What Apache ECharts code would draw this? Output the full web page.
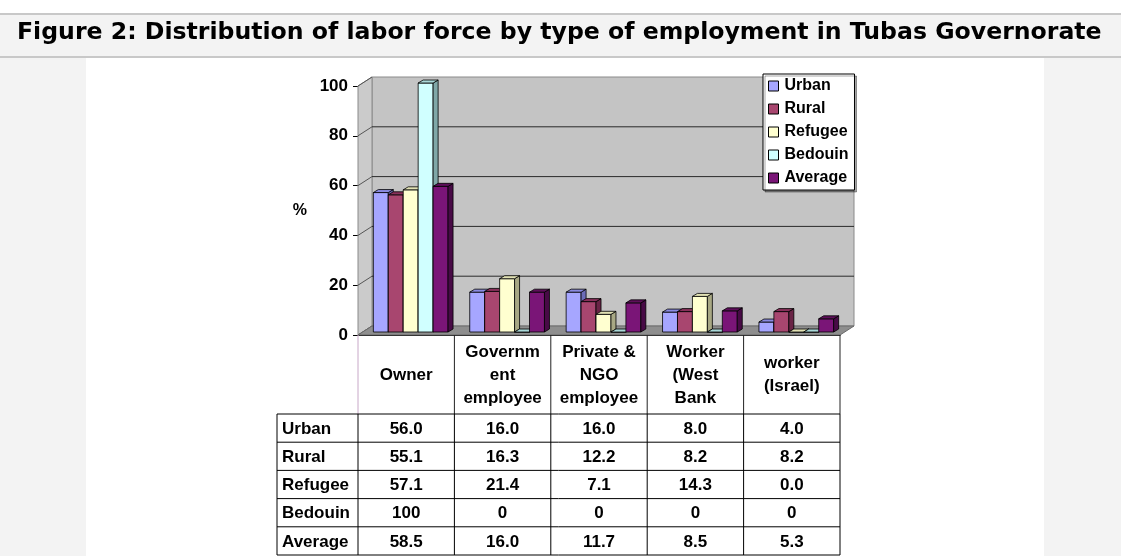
<!DOCTYPE html>
<html>
<head>
<meta charset="utf-8">
<script src="https://cdn.jsdelivr.net/npm/echarts@6/dist/echarts.min.js"></script>
<style>
  html, body { margin: 0; padding: 0; background: #fff; }
  #laborChart { width: 1121px; height: 556px; }
</style>
</head>
<body>
<div id="laborChart"></div>
<script>
// categories (header text wraps like the original table)
var categories = ['Owner', 'Governm\nent\nemployee', 'Private &\nNGO\nemployee', 'Worker\n(West\nBank', 'worker\n(Israel)'];
var seriesNames = ['Urban', 'Rural', 'Refugee', 'Bedouin', 'Average'];
var urban = [56.0, 16.0, 16.0, 8.0, 4.0];
var rural = [55.1, 16.3, 12.2, 8.2, 8.2];
var refugee = [57.1, 21.4, 7.1, 14.3, 0.0];
var bedouin = [100, 0, 0, 0, 0];
var average = [58.5, 16.0, 11.7, 8.5, 5.3];
var rowDecimals = [1, 1, 1, 0, 1];
var yTicks = [0, 20, 40, 60, 80, 100];

var allValues = [urban, rural, refugee, bedouin, average];

// colours: front / side / top of each 3d column
var frontColors = ['#a6a6ff', '#a8466f', '#ffffd0', '#d0ffff', '#7a1577'];
var sideColors = ['#6c6cb8', '#6a2446', '#a8a884', '#80a8a8', '#480a46'];
var topColors = ['#8a8ae0', '#88305a', '#e2e2b4', '#aad8d8', '#5e0e5a'];

var GRID_LEFT = 358, GRID_TOP = 86, GRID_W = 482, GRID_H = 249;
var WALL_DX = 14, WALL_DY = -9;   // depth of the walls
var BAR_DX = 5, BAR_DY = -3;      // depth of a column
var FONT = '"Liberation Sans", Arial, sans-serif';

function barRenderer(si) {
  return function (params, api) {
    var c = api.value(0);
    var v = api.value(1);
    var base = api.coord([c, 0]);
    var top = api.coord([c, v]);
    var band = api.size([1, 0])[0];
    var bw = band * 0.155;
    var x0 = base[0] - 2.5 * bw + si * bw + 4.5;
    var x1 = x0 + bw;
    var yb = base[1] - 3;
    var yt = top[1] - 3;
    var line = { stroke: '#000', lineWidth: 0.8 };
    return {
      type: 'group',
      children: [
        { type: 'rect', shape: { x: x0, y: yt, width: bw, height: yb - yt },
          style: Object.assign({ fill: frontColors[si] }, line) },
        { type: 'polygon', shape: { points: [[x1, yb], [x1 + BAR_DX, yb + BAR_DY], [x1 + BAR_DX, yt + BAR_DY], [x1, yt]] },
          style: Object.assign({ fill: sideColors[si] }, line) },
        { type: 'polygon', shape: { points: [[x0, yt], [x0 + BAR_DX, yt + BAR_DY], [x1 + BAR_DX, yt + BAR_DY], [x1, yt]] },
          style: Object.assign({ fill: topColors[si] }, line) }
      ]
    };
  };
}

function frameRenderer(params, api) {
  var cs = params.coordSys;
  var y0 = api.coord([0, 0])[1];
  var yTop = api.coord([0, 100])[1];
  var children = [];
  // back wall
  children.push({ type: 'rect', shape: { x: cs.x + WALL_DX, y: yTop + WALL_DY, width: cs.width, height: y0 - yTop },
    style: { fill: '#c4c4c4', stroke: '#8a8a8a', lineWidth: 1 } });
  // side wall
  children.push({ type: 'polygon', shape: { points: [[cs.x, y0], [cs.x + WALL_DX, y0 + WALL_DY], [cs.x + WALL_DX, yTop + WALL_DY], [cs.x, yTop]] },
    style: { fill: '#cbcbcb', stroke: '#8a8a8a', lineWidth: 1 } });
  yTicks.forEach(function (t) {
    var y = api.coord([0, t])[1];
    if (t > 0 && t < 100) {
      children.push({ type: 'line', shape: { x1: cs.x + WALL_DX, y1: y + WALL_DY, x2: cs.x + WALL_DX + cs.width, y2: y + WALL_DY },
        style: { stroke: '#2a2a2a', lineWidth: 1 } });
    }
    children.push({ type: 'line', shape: { x1: cs.x, y1: y, x2: cs.x + WALL_DX, y2: y + WALL_DY },
      style: { stroke: '#555', lineWidth: 1 } });
  });
  // floor
  children.push({ type: 'polygon', shape: { points: [[cs.x, y0], [cs.x + cs.width, y0], [cs.x + cs.width + WALL_DX, y0 + WALL_DY], [cs.x + WALL_DX, y0 + WALL_DY]] },
    style: { fill: '#8e8e8e', stroke: '#6a6a6a', lineWidth: 1 } });
  return { type: 'group', children: children };
}

// table under the chart
function buildTable() {
  var els = [];
  var colW = GRID_W / categories.length;
  var headTop = GRID_TOP + GRID_H;
  var rowTop = 414, rowH = 28.2, labelLeft = 277;
  var bottom = rowTop + rowH * seriesNames.length;
  // header column lines
  for (var k = 0; k <= categories.length; k++) {
    var x = GRID_LEFT + k * colW;
    els.push({ type: 'line', z: 10, shape: { x1: x, y1: headTop, x2: x, y2: rowTop },
      style: { stroke: k === 0 ? '#c8a8c8' : '#222', lineWidth: 1 } });
    els.push({ type: 'line', z: 10, shape: { x1: x, y1: rowTop, x2: x, y2: bottom },
      style: { stroke: '#000', lineWidth: 1 } });
  }
  els.push({ type: 'line', z: 10, shape: { x1: labelLeft, y1: rowTop, x2: labelLeft, y2: bottom },
    style: { stroke: '#000', lineWidth: 1 } });
  for (var r = 0; r <= seriesNames.length; r++) {
    var y = rowTop + r * rowH;
    els.push({ type: 'line', z: 10, shape: { x1: labelLeft, y1: y, x2: GRID_LEFT + GRID_W, y2: y },
      style: { stroke: '#000', lineWidth: 1 } });
  }
  seriesNames.forEach(function (name, r) {
    var cy = rowTop + r * rowH + rowH / 2 + 1;
    els.push({ type: 'text', z: 11, x: labelLeft + 5, y: cy,
      style: { text: name, font: 'bold 17px ' + FONT, fill: '#000', verticalAlign: 'middle', align: 'left' } });
    allValues[r].forEach(function (v, c) {
      els.push({ type: 'text', z: 11, x: GRID_LEFT + c * colW + colW / 2, y: cy,
        style: { text: v.toFixed(rowDecimals[r]), font: 'bold 17px ' + FONT, fill: '#000', verticalAlign: 'middle', align: 'center' } });
    });
  });
  return els;
}

var backdrop = [
  { type: 'rect', z: -5, shape: { x: 0, y: 14, width: 1121, height: 43 }, style: { fill: '#f3f3f3' } },
  { type: 'line', z: -4, shape: { x1: 0, y1: 14, x2: 1121, y2: 14 }, style: { stroke: '#c8c8c8', lineWidth: 2 } },
  { type: 'line', z: -4, shape: { x1: 0, y1: 57, x2: 1121, y2: 57 }, style: { stroke: '#c8c8c8', lineWidth: 2 } },
  { type: 'rect', z: -5, shape: { x: 0, y: 58, width: 86, height: 498 }, style: { fill: '#f3f3f3' } },
  { type: 'rect', z: -5, shape: { x: 1044, y: 58, width: 77, height: 498 }, style: { fill: '#f3f3f3' } }
];

var laborChart = echarts.init(document.getElementById('laborChart'));

var series = [{
  name: 'frame', type: 'custom', z: 1, silent: true,
  data: [[0, 0]], renderItem: frameRenderer
}];
seriesNames.forEach(function (name, i) {
  series.push({
    name: name,
    type: 'custom',
    z: 2,
    itemStyle: { color: frontColors[i], borderColor: '#000', borderWidth: 1 },
    encode: { x: 0, y: 1 },
    data: allValues[i].map(function (v, c) { return [c, v]; }),
    renderItem: barRenderer(i)
  });
});

var options = {
  backgroundColor: '#fff',
  animation: false,
  title: {
    text: 'Figure 2: Distribution of labor force by type of employment in Tubas Governorate',
    left: 17,
    top: 21,
    padding: 0,
    textStyle: { fontFamily: '"DejaVu Sans", Verdana, sans-serif', fontWeight: 'bold', fontSize: 23.6, color: '#000' }
  },
  legend: {
    data: seriesNames,
    orient: 'vertical',
    left: 763,
    top: 74,
    padding: [4, 6, 4, 5],
    itemWidth: 10,
    itemHeight: 10,
    itemGap: 7,
    icon: 'rect',
    backgroundColor: '#fff',
    borderColor: '#000',
    borderWidth: 1,
    shadowColor: 'rgba(0,0,0,0.35)',
    shadowOffsetX: 2,
    shadowOffsetY: 2,
    itemStyle: { borderColor: '#000', borderWidth: 1 },
    textStyle: { fontFamily: FONT, fontWeight: 'bold', fontSize: 16, color: '#000', padding: [0, 0, 0, 1] }
  },
  grid: { left: GRID_LEFT, top: GRID_TOP, width: GRID_W, height: GRID_H },
  xAxis: {
    type: 'category',
    data: categories,
    axisLine: { lineStyle: { color: '#000', width: 1 } },
    axisTick: { show: false },
    axisLabel: {
      interval: 0,
      margin: 40,
      verticalAlign: 'middle',
      lineHeight: 23,
      fontFamily: FONT, fontWeight: 'bold', fontSize: 17, color: '#000'
    }
  },
  yAxis: {
    type: 'value',
    min: 0,
    max: 100,
    interval: 20,
    name: '%',
    nameLocation: 'middle',
    nameRotate: 0,
    nameGap: 51,
    nameTextStyle: { fontFamily: FONT, fontWeight: 'bold', fontSize: 16, color: '#000' },
    axisLine: { show: true, lineStyle: { color: '#000', width: 1 } },
    axisTick: { show: true, length: 5, lineStyle: { color: '#000' } },
    splitLine: { show: false },
    axisLabel: { margin: 10, fontFamily: FONT, fontWeight: 'bold', fontSize: 17, color: '#000' }
  },
  graphic: { elements: backdrop.concat(buildTable()) },
  series: series
};

laborChart.setOption(options);
</script>
</body>
</html>
